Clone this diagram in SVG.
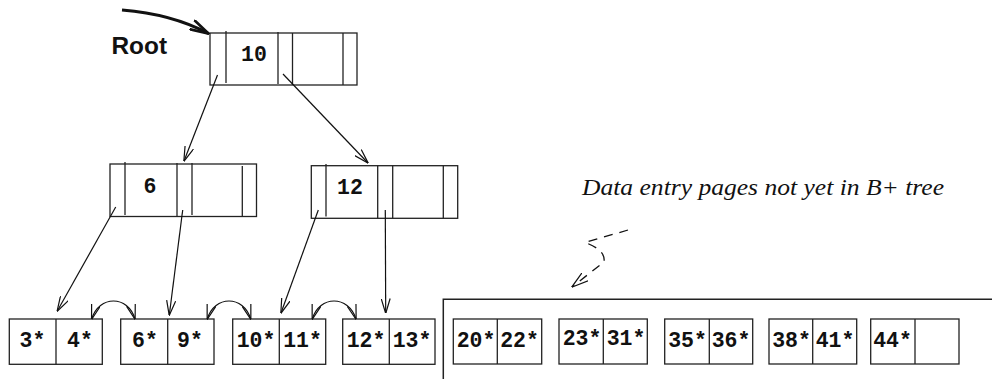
<svg xmlns="http://www.w3.org/2000/svg" width="992" height="379" viewBox="0 0 992 379">
<style>
.box{fill:none;stroke:#222;stroke-width:1.3}
.ln{stroke:#222;stroke-width:1.3}
.mono{font-family:"Liberation Mono","DejaVu Sans Mono",monospace;font-weight:bold;font-size:21.5px;fill:#111;text-anchor:middle}
.arr{fill:none;stroke:#111;stroke-width:1.2;marker-end:url(#ah)}
.sib{fill:none;stroke:#111;stroke-width:1.2;marker-start:url(#ah);marker-end:url(#ah)}
</style>
<defs>
<marker id="ah" viewBox="0 0 15 10" refX="14.5" refY="5" markerWidth="15" markerHeight="10" markerUnits="userSpaceOnUse" orient="auto-start-reverse">
<path d="M0,0.5 L15,5 L0,9.5" fill="none" stroke="#111" stroke-width="1.2"/>
</marker>
<marker id="ahb" viewBox="0 0 20 12" refX="19" refY="6" markerWidth="20" markerHeight="12" markerUnits="userSpaceOnUse" orient="auto">
<path d="M0,0.8 L19,6 L0,11.2" fill="none" stroke="#111" stroke-width="2.6"/>
</marker>
<marker id="ahd" viewBox="0 0 17 11" refX="16.5" refY="5.5" markerWidth="17" markerHeight="11" markerUnits="userSpaceOnUse" orient="auto">
<path d="M0,0.5 L17,5.5 L0,10.5" fill="none" stroke="#111" stroke-width="1.2"/>
</marker>
</defs>
<rect width="992" height="379" fill="#fff"/>

<g id="root-label">
<text x="111.5" y="54" font-family="Liberation Sans, Arial, sans-serif" font-weight="bold" font-size="23" fill="#111" textLength="55.5" lengthAdjust="spacingAndGlyphs">Root</text>
</g>

<g id="note">
<text x="582" y="195" font-family="Liberation Serif, Times New Roman, serif" font-style="italic" font-size="23.5" fill="#111" textLength="362" lengthAdjust="spacingAndGlyphs">Data entry pages not yet in B+ tree</text>
</g>

<g id="node-root">
<rect class="box" x="210" y="33" width="147" height="52"/>
<line class="ln" x1="226" y1="31" x2="226" y2="83"/>
<line class="ln" x1="278" y1="32" x2="278" y2="84"/>
<line class="ln" x1="292.5" y1="33" x2="292.5" y2="85"/>
<line class="ln" x1="343" y1="33" x2="343" y2="85"/>
<text class="mono" x="254" y="61">10</text>
</g>

<g id="node-6">
<rect class="box" x="110" y="164" width="146.5" height="52.5"/>
<line class="ln" x1="125" y1="162" x2="125" y2="215"/>
<line class="ln" x1="177" y1="163" x2="177" y2="216"/>
<line class="ln" x1="192" y1="163" x2="192" y2="215"/>
<line class="ln" x1="242.3" y1="166" x2="242.3" y2="216.5"/>
<text class="mono" x="150" y="193">6</text>
</g>

<g id="node-12">
<rect class="box" x="311.3" y="165.7" width="146.4" height="52.6"/>
<line class="ln" x1="326" y1="164" x2="326" y2="216.5"/>
<line class="ln" x1="377.7" y1="165.7" x2="377.7" y2="218.3"/>
<line class="ln" x1="392.7" y1="165.7" x2="392.7" y2="218.3"/>
<line class="ln" x1="443.3" y1="165.7" x2="443.3" y2="218.3"/>
<text class="mono" x="350" y="193.5">12</text>
</g>

<g id="leaf-3-4">
<rect class="box" x="9.3" y="319" width="93" height="45.3"/>
<line class="ln" x1="56" y1="319" x2="56" y2="364.3"/>
<text class="mono" x="32.5" y="346.5">3*</text>
<text class="mono" x="80" y="346.5">4*</text>
</g>
<g id="leaf-6-9">
<rect class="box" x="120.7" y="319" width="93.3" height="45.3"/>
<line class="ln" x1="167.7" y1="319" x2="167.7" y2="364.3"/>
<text class="mono" x="145" y="346.5">6*</text>
<text class="mono" x="190" y="346.5">9*</text>
</g>
<g id="leaf-10-11">
<rect class="box" x="232.7" y="319" width="93" height="45.3"/>
<line class="ln" x1="279.3" y1="319" x2="279.3" y2="364.3"/>
<text class="mono" x="256" y="346.5">10*</text>
<text class="mono" x="302.5" y="346.5">11*</text>
</g>
<g id="leaf-12-13">
<rect class="box" x="342.7" y="319" width="92.3" height="45.3"/>
<line class="ln" x1="389.3" y1="319" x2="389.3" y2="364.3"/>
<text class="mono" x="366" y="346.5">12*</text>
<text class="mono" x="412" y="346.5">13*</text>
</g>

<g id="pending-area">
<polyline class="box" points="443.3,379 443.3,299.3 992,299.3" style="stroke-width:1.5"/>
</g>
<g id="leaf-20-22">
<rect class="box" x="453.3" y="319" width="88.4" height="45"/>
<line class="ln" x1="497.3" y1="319" x2="497.3" y2="364"/>
<text class="mono" x="476" y="346.5">20*</text>
<text class="mono" x="519.5" y="346.5">22*</text>
</g>
<g id="leaf-23-31">
<rect class="box" x="559" y="319" width="88.3" height="45"/>
<line class="ln" x1="603.3" y1="319" x2="603.3" y2="364"/>
<text class="mono" x="582" y="344.5">23*</text>
<text class="mono" x="626" y="344.5">31*</text>
</g>
<g id="leaf-35-36">
<rect class="box" x="664.7" y="319" width="88" height="45"/>
<line class="ln" x1="709.3" y1="319" x2="709.3" y2="364"/>
<text class="mono" x="687.5" y="346.5">35*</text>
<text class="mono" x="731" y="346.5">36*</text>
</g>
<g id="leaf-38-41">
<rect class="box" x="769" y="319" width="87.7" height="45"/>
<line class="ln" x1="812.7" y1="319" x2="812.7" y2="364"/>
<text class="mono" x="791.5" y="346.5">38*</text>
<text class="mono" x="835" y="346.5">41*</text>
</g>
<g id="leaf-44">
<rect class="box" x="870.7" y="319" width="88.3" height="45"/>
<line class="ln" x1="915" y1="319" x2="915" y2="364"/>
<text class="mono" x="892.5" y="346.5">44*</text>
</g>

<g id="connectors">
<path d="M122,10 Q172,14 208.5,33.5" fill="none" stroke="#111" stroke-width="3" marker-end="url(#ahb)"/>
<line class="arr" x1="217.5" y1="75" x2="184" y2="161"/>
<line class="arr" x1="283" y1="74" x2="368" y2="163"/>
<line class="arr" x1="115.7" y1="207" x2="57.3" y2="311"/>
<line class="arr" x1="182.7" y1="210" x2="169.3" y2="315"/>
<line class="arr" x1="318.3" y1="210" x2="281" y2="313"/>
<line class="arr" x1="385.3" y1="210" x2="385.7" y2="313"/>
<path class="sib" d="M91.7,319 C99,295 128,295 135,319"/>
<path class="sib" d="M207.3,319 C214.5,295 243.5,295 250.7,319"/>
<path class="sib" d="M312.3,319 C319.5,295 348.5,295 356,319"/>
<path d="M628,230 L585,242.5 Q606,250 604,262 L572,287" fill="none" stroke="#111" stroke-width="1.3" stroke-dasharray="9,7" marker-end="url(#ahd)"/>
</g>
</svg>
